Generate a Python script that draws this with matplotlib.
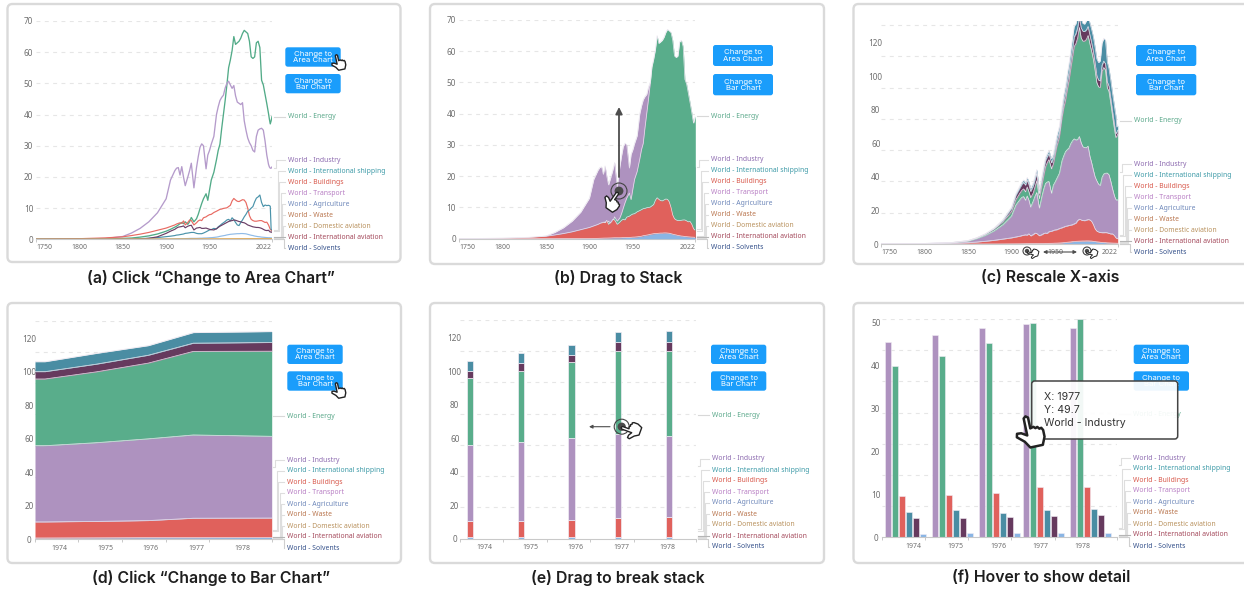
import numpy as np
import matplotlib
matplotlib.use("Agg")
import matplotlib.pyplot as plt
from matplotlib.patches import FancyBboxPatch, Polygon, Circle

W, H = 1244, 589

# ---------- data: long series ----------
years = [1750,1800,1830,1850,1860,1870,1880,1890,1900,1905,
         1910,1912,1914,1916,1918,1920,1922,1925,1927,1929,
         1932,1935,1937,1939,1941,1943,1946,1948,1950,1952,
         1955,1958,1960,1962,1964,1966,1968,1970,1972,1974,
         1976,1978,1980,1982,1984,1986,1988,1990,1992,1994,
         1996,1998,2000,2002,2004,2006,2008,2010,2012,2014,
         2016,2018,2019,2020,2021,2022]
energy = [0,0.05,0.1,0.3,0.4,0.7,1.1,1.7,2.6,3.2,
          3.9,4.2,4.6,5.0,5.4,5.0,5.6,4.8,5.6,7.0,
          5.6,6.6,8.0,9.8,11.5,13.0,14.6,12.5,15.8,19.0,
          21.5,25.5,28.5,30.5,35.5,40,44.5,49.5,55,57.5,
          60.5,65.0,62.5,63,63.5,64.5,66,67,66.5,66,
          63.5,58.5,58,58.5,63,63.5,61.5,51,49.5,46.5,
          43.5,40.3,38.5,37,38,39.3]
industry = [0,0.1,0.25,0.9,2.0,3.5,5.6,8.5,13,19,
            22.0,22.8,23.0,20.6,23.3,20.0,17.2,20,22.0,24.4,
            16.5,23,26.5,29.5,30.6,30,22.6,27,28.5,30.5,
            33,40,42.5,44.5,45.5,46.2,48.5,50,50.7,49.5,
            48.4,49.3,46,44,43.6,43.2,43.8,38,35,32.5,
            31,30,28.5,28,33,35,35.4,35.6,35,31.5,
            27,24,23.2,22.8,22.8,23.2]
buildings = [0,0.2,0.45,0.8,1.2,1.65,2.2,2.9,3.6,4.1,
             4.6,4.9,5.1,5.3,5.1,5.9,4.6,5.4,6.2,6.0,
             4.6,5.3,5.9,6.2,6.0,6.9,7.2,7.6,7.9,8.0,
             8.6,9.0,9.3,9.6,9.7,9.9,10.0,10.1,10.5,10.9,
             12.3,13.1,12.6,12.2,12.1,12.4,12.7,12.6,11.8,10,
             7.6,6.4,6.0,5.8,5.8,5.9,6.0,6.0,5.7,5.4,
             5.5,4.6,3.9,3.2,2.9,2.7]
shipping = [0,0,0.02,0.05,0.1,0.2,0.35,0.55,0.85,1.0,
            1.2,1.35,1.4,1.5,1.6,1.7,1.9,2.0,2.1,2.2,
            2.2,1.9,1.8,1.8,1.8,2.0,2.4,2.7,3.0,3.1,
            3.5,3.3,4.0,4.4,4.9,5.3,5.7,6.2,6.4,5.9,
            6.9,6.3,5.4,4.6,4.4,5.4,6.2,7.2,8.0,9.0,
            9.4,10,10.5,12,13.2,13.6,14.2,11.8,10.5,11,
            10.8,10.9,10.8,10.6,3.2,3.0]
aviation = [0,0,0,0.02,0.05,0.1,0.3,0.8,1.9,2.6,
            3.2,3.6,3.9,4.0,4.1,4.3,3.7,4.2,4.4,4.5,
            3.0,3.6,3.7,3.8,3.5,3.5,3.6,3.4,3.2,3.1,
            3.0,3.4,3.8,4.2,4.5,4.8,5.1,5.4,5.7,5.9,
            6.0,6.2,6.1,5.9,5.7,5.6,5.4,5.3,5.0,4.6,
            4.4,4.2,4.0,3.9,3.8,3.8,3.7,3.5,3.2,2.9,
            2.8,2.9,2.6,2.3,2.4,2.2]
agriculture = [0,0,0,0,0,0.01,0.02,0.04,0.08,0.1,
               0.12,0.14,0.16,0.18,0.2,0.2,0.22,0.25,0.28,0.3,
               0.3,0.3,0.32,0.35,0.35,0.4,0.42,0.45,0.5,0.52,
               0.6,0.7,0.8,0.95,1.05,1.15,1.25,1.4,1.5,1.6,
               1.65,1.7,1.75,1.8,1.8,1.85,1.85,1.8,1.75,1.6,
               1.45,1.3,1.2,1.05,0.95,0.85,0.8,0.7,0.65,0.6,
               0.55,0.5,0.5,0.48,0.45,0.45]
waste_years = [1750, 1900, 1950, 2000, 2022]
waste = [0.02, 0.05, 0.1, 0.15, 0.15]

# ---------- data: five-year series ----------
cats = ["1974", "1975", "1976", "1977", "1978"]
c_industry = [45.5, 47.0, 48.8, 49.7, 48.8]
c_energy = [39.8, 42.3, 45.2, 49.9, 50.8]
c_buildings = [9.6, 9.8, 10.2, 11.6, 11.6]
c_shipping = [5.9, 6.4, 5.7, 6.3, 6.5]
c_aviation = [4.4, 4.6, 4.7, 4.9, 5.2]
c_agriculture = [0.8, 0.9, 1.0, 1.0, 1.1]

legend_names = ["World - Industry", "World - International shipping", "World - Buildings",
                "World - Transport", "World - Agriculture", "World - Waste",
                "World - Domestic aviation", "World - International aviation", "World - Solvents"]
legend_colors = ["#8d6bb0", "#3f9ba8", "#d8584b", "#b87fc4", "#6f88ba", "#b9764f",
                 "#b9925f", "#a44a5c", "#34508a"]

GREEN, PURPLE, RED = "#59ad8b", "#ae92bf", "#e0615c"
TEAL, PLUM, BLUE = "#4a8da3", "#663a5e", "#8ab5e4"
GRID, AXC, TXT = "#e6e6e6", "#c9c9c9", "#6f6f6f"
plt.rcParams['font.family'] = ['Noto Sans', 'DejaVu Sans']

fig = plt.figure(figsize=(W / 100, H / 100), dpi=100, facecolor="white")
back = fig.add_axes([0, 0, 1, 1], zorder=0)
front = fig.add_axes([0, 0, 1, 1], zorder=5)
for a in (back, front):
    a.set_xlim(0, W); a.set_ylim(H, 0); a.axis("off"); a.patch.set_visible(False)


def make_axes(x0, x1, base, top, gridtop, gridmax, xlim, yticks, ha, pad):
    ax = fig.add_axes([x0 / W, 1 - base / H, (x1 - x0) / W, (base - top) / H], zorder=2)
    ax.patch.set_visible(False)
    ax.set_xlim(*xlim)
    ax.set_ylim(0, gridmax * (base - top) / (base - gridtop))
    for s in ("top", "left", "right"):
        ax.spines[s].set_visible(False)
    ax.spines["bottom"].set_color(AXC)
    ax.spines["bottom"].set_linewidth(0.8)
    for i in range(1, 8):
        ax.axhline(gridmax * i / 7, color=GRID, lw=0.8, dashes=(3.5, 4), zorder=0.5)
    ax.set_yticks(yticks)
    ax.tick_params(axis="y", length=0, pad=pad * 0.72, labelsize=5.9, labelcolor=TXT)
    for lab in ax.get_yticklabels():
        lab.set_ha(ha)
    ax.tick_params(axis="x", length=2, width=0.7, color=AXC, labelsize=5.0, labelcolor=TXT, pad=1.5)
    return ax


def year_axis(ax):
    ax.set_xticks([1750, 1800, 1850, 1900, 1950, 2022])
    ax.set_xticklabels(["1750", "1800", "1850", "1900", "1950", "2022"])
    labs = ax.get_xticklabels()
    labs[0].set_ha("left"); labs[-1].set_ha("right")
    for t in ax.xaxis.get_major_ticks()[1:-1]:
        t.tick1line.set_visible(False)


def cat_axis(ax, tick_pos, label_pos):
    ax.set_xticks(tick_pos)
    ax.set_xticklabels([""] * len(tick_pos))
    for p, c in zip(label_pos, cats):
        ax.annotate(c, (p, 0), xytext=(0, -6.5), textcoords="offset points", ha="center", va="center",
                    fontsize=5.0, color=TXT, annotation_clip=False)


def fills(ax, x, layers, colors):
    low = np.zeros(len(x))
    for vals, col in zip(layers, colors):
        high = low + np.array(vals)
        ax.fill_between(x, low, high, color=col, lw=0, zorder=2)
        ax.plot(x, high, color="#e9e4ee", lw=0.5, zorder=2.1)
        low = high


def panel_frame(x0, y0, x1, y1, text, cx, cy):
    back.add_patch(FancyBboxPatch((x0, y0), x1 - x0, y1 - y0, boxstyle="round,pad=0,rounding_size=5",
                                  fc="white", ec="#dadada", lw=1.7, zorder=1, clip_on=True))
    back.text(cx, cy, text, ha="center", va="center", fontsize=11.4, fontweight="semibold",
              family=["Inter", "DejaVu Sans"], color="#1e1e1e")


def buttons(x0, x1, y1a, y1b, y2a, y2b):
    for (a, b, t) in ((y1a, y1b, "Change to\nArea Chart"), (y2a, y2b, "Change to\nBar Chart")):
        back.add_patch(FancyBboxPatch((x0, a), x1 - x0, b - a, boxstyle="round,pad=0,rounding_size=2.5",
                                      fc="#1a9dfb", ec="none", zorder=2))
        back.text((x0 + x1) / 2, (a + b) / 2, t, ha="center", va="center", color="white", fontsize=5.6,
                  linespacing=1.05, zorder=3, family=["Inter", "DejaVu Sans"])


def legend(lx, ey, base):
    back.text(lx, ey, "World - Energy", color="#5aa88a", fontsize=4.9, va="center", zorder=3)
    back.plot([lx - 14, lx - 3], [ey, ey], color="#d8d8d8", lw=0.8, zorder=2)
    ys = [ey + 43.7 + 11 * i for i in range(9)]
    for i, (n, c, y) in enumerate(zip(legend_names, legend_colors, ys)):
        back.text(lx, y, n, color=c, fontsize=4.9, va="center", zorder=3)
    # bent leader lines
    vx = [lx - 12, lx - 10.5, lx - 9, lx - 7.5, lx - 6.5, lx - 6, lx - 5.5]
    ends = [ey + 51, base - 9.5, base - 8, base - 2.5, base - 1.5, base - 1, base - 0.5]
    for y, x, e in zip(ys[:7], vx, ends):
        back.plot([lx - 3, x, x, lx - 14], [y, y, e, e], color="#dedede", lw=0.8, zorder=2)
    back.plot([lx - 14, lx - 3], [ys[7], ys[7]], color="#b5b5b5", lw=0.8, zorder=2)
    back.plot([lx - 14, lx - 3.6, lx - 3.6, lx - 3], [base, base, ys[8], ys[8]], color="#cfcfcf", lw=0.8, zorder=2)


HAND = np.array([(-0.13, -0.9), (0, -1.0), (0.13, -0.9), (0.13, -0.25), (0.33, -0.3), (0.43, -0.2),
                 (0.55, -0.25), (0.65, -0.12), (0.77, -0.15), (0.85, 0.0), (0.85, 0.4), (0.65, 0.85),
                 (-0.1, 0.85), (-0.35, 0.45), (-0.75, 0.1), (-0.7, -0.1), (-0.45, -0.08), (-0.13, 0.12)])


def hand(cx, cy, s, rot, lw=1.0):
    t = np.radians(rot)
    R = np.array([[np.cos(t), -np.sin(t)], [np.sin(t), np.cos(t)]])
    front.add_patch(Polygon((HAND @ R.T) * s + [cx, cy], closed=True, fc="white", ec="#222222",
                            lw=lw, joinstyle="round", zorder=8))


def touch(cx, cy, r=7):
    front.add_patch(Circle((cx, cy), r, fc="none", ec="#444444", lw=0.8, zorder=6))
    front.add_patch(Circle((cx, cy), r * 0.55, fc="#4a4a4a", ec="none", zorder=6))


def arrow(p0, p1, style="-|>", lw=1.0, ms=8):
    front.annotate("", xy=p1, xytext=p0, zorder=6,
                   arrowprops=dict(arrowstyle=style, color="#4d4d4d", lw=lw, mutation_scale=ms,
                                   shrinkA=0, shrinkB=0))


# ---------- frames, captions, buttons, legends ----------
panel_frame(7.5, 4, 400.5, 262, "(a) Click “Change to Area Chart”", 211, 278)
panel_frame(430, 4, 824, 264, "(b) Drag to Stack", 618, 278)
panel_frame(853.5, 4, 1300, 264, "(c) Rescale X-axis", 1050, 278)
panel_frame(7.5, 303, 401, 563, "(d) Click “Change to Bar Chart”", 211, 578)
panel_frame(430, 303, 824, 563, "(e) Drag to break stack", 618, 578)
panel_frame(853.5, 303, 1300, 563, "(f) Hover to show detail", 1041, 578)

buttons(285.3, 340.7, 47.3, 66.7, 74, 93.3)
buttons(713, 773, 45, 66, 74, 95.3)
buttons(1136, 1196.3, 45, 66, 74, 95.3)
buttons(287.3, 342.7, 344.7, 364, 371.3, 390.7)
buttons(711, 766.3, 344.7, 364, 371.3, 390.7)
buttons(1133.7, 1189, 344.7, 364, 371.3, 390.7)

legend(288, 116.7, 239.3)
legend(711, 116, 238.7)
legend(1133.7, 120.7, 244)
legend(287.3, 416.3, 539.3)
legend(711.7, 415.3, 538.7)
legend(1132.7, 414.3, 537.3)

# ---------- (a) lines ----------
ax = make_axes(36, 272, 239.3, 21, 21, 70, (1750, 2022), range(0, 71, 10), "right", 2.7)
year_axis(ax)
ax.plot(years, energy, color="#52ab88", lw=0.95, zorder=3)
ax.plot(years, industry, color="#b59bcb", lw=0.95, zorder=3)
ax.plot(years, buildings, color="#e86a62", lw=0.85, zorder=3)
ax.plot(years, shipping, color="#4a93aa", lw=0.85, zorder=3)
ax.plot(years, aviation, color="#6a3f66", lw=0.85, zorder=3)
ax.plot(years, agriculture, color="#8fbbe8", lw=0.85, zorder=3)
ax.plot(waste_years, waste, color="#dba95c", lw=1.1, zorder=3)

# ---------- (b) overlapping areas ----------
ax = make_axes(459.3, 695.3, 238.7, 20, 20, 70, (1750, 2022), range(0, 71, 10), "right", 3.3)
year_axis(ax)
for k, (vals, col) in enumerate(((industry, PURPLE), (energy, GREEN), (buildings, RED), (agriculture, BLUE))):
    ax.fill_between(years, 0, vals, color=col, lw=0, zorder=2 + k * 0.2)
    ax.plot(years, vals, color="#e9e4ee", lw=0.5, zorder=2.1 + k * 0.2)

# ---------- (c) stacked areas ----------
ax = make_axes(881, 1117.7, 244, 20.7, 25, 130.6, (1750, 2022), range(0, 121, 20), "center", 5.3)
year_axis(ax)
fills(ax, years, [agriculture, buildings, industry, energy, aviation, shipping],
      [BLUE, RED, PURPLE, GREEN, PLUM, TEAL])

# ---------- (d) stacked area, five years ----------
d_x = [135, 290, 445, 580, 815]
ax = make_axes(35, 271.7, 539.3, 320.7, 320.7, 130.5, (105, 815), range(0, 121, 20), "center", 5.7)
cat_axis(ax, [105, 235, 365, 497, 627, 815], [177, 315, 452, 590, 728])
layers = [c_agriculture, c_buildings, c_industry, c_energy, c_aviation, c_shipping]
fills(ax, [105] + d_x, [[v[0]] + v for v in layers], [BLUE, RED, PURPLE, GREEN, PLUM, TEAL])

# ---------- (e) stacked bars ----------
e_x = [150, 302, 454, 594, 747]
ax = make_axes(460, 695.7, 538.7, 320, 320, 130.5, (120, 827), range(0, 121, 20), "center", 5.3)
cat_axis(ax, [120, 250, 380, 511, 641, 827], [192, 330, 467, 604, 741])
low = np.zeros(5)
for vals, col in zip(layers, [BLUE, RED, PURPLE, GREEN, PLUM, TEAL]):
    ax.bar(e_x, vals, bottom=low, width=19, color=col, ec="#f1edf5", lw=0.5, zorder=2)
    low = low + np.array(vals)

# ---------- (f) grouped bars ----------
f_start = [145, 286, 427, 557, 698]
ax = make_axes(881.7, 1116.7, 537.3, 319, 319, 50.8, (125, 830), range(0, 51, 10), "center", 6)
cat_axis(ax, [125, 254, 384, 514, 644, 830], [220, 347, 474, 601, 728])
f_series = [c_industry, c_energy, c_buildings, c_shipping, c_aviation, c_agriculture]
for k, (vals, col) in enumerate(zip(f_series, [PURPLE, GREEN, RED, TEAL, PLUM, BLUE])):
    ax.bar(np.array(f_start) + 21 * k, vals, width=18, color=col, ec="#f1edf5", lw=0.4, zorder=2)

# ---------- interaction marks ----------
hand(338, 63, 8.5, -12)
touch(619, 191, 8)
arrow((619, 177), (619, 107), lw=1.3, ms=10)
hand(612, 201, 10.5, 35)
arrow((1043, 252), (1077, 252), style="<|-|>", lw=0.8, ms=5)
touch(1027, 251, 4)
touch(1087, 251, 4)
hand(1033, 254, 6, -75, lw=0.7)
hand(1092, 254, 6, -75, lw=0.7)
hand(338, 391, 8.5, -12)
touch(621.7, 426.7, 7.5)
arrow((610, 426.7), (589, 426.7), lw=0.8, ms=5)
hand(631, 431, 10.5, -70)

front.add_patch(FancyBboxPatch((1031.7, 381), 146, 58, boxstyle="round,pad=0,rounding_size=3",
                               fc=(1, 1, 1, 0.93), ec="#444444", lw=1.1, zorder=5))
for y, t in zip((396.7, 410, 423.3), ("X: 1977", "Y: 49.7", "World - Industry")):
    front.text(1044, y, t, fontsize=7.6, color="#333333", va="center", zorder=6,
               family=["Inter", "DejaVu Sans"])
hand(1029, 433, 17, -12, lw=1.8)

fig.savefig("out.png", dpi=100)
